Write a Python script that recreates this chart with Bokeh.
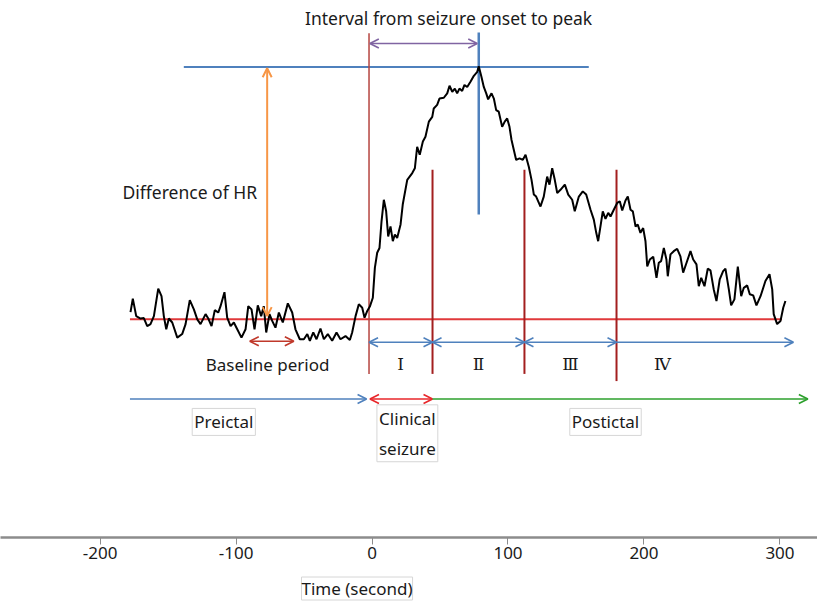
from bokeh.plotting import figure
from bokeh.models import Range1d, FixedTicker, Arrow, OpenHead, Label, LinearAxis, Title
from bokeh.embed import file_html
from bokeh.resources import INLINE

# ---------------- data ----------------
time_s = [
    -177.6, -175.9, -173.4, -170.2, -167.8, -165.3, -162.9, -160.4, -157.2, -154.8,
    -153.1, -151.3, -149.4, -146.9, -143.2, -139.6, -137.1, -134.0, -131.0, -128.5,
    -126.1, -122.4, -120.4, -118.0, -115.6, -113.1, -111.4, -108.5, -106.5, -104.0,
    -101.6, -99.1, -96.0, -93.0, -91.0, -88.6, -86.4, -84.0, -81.5, -79.6,
    -77.8, -75.4, -73.4, -71.0, -68.5, -65.6, -61.9, -58.7, -56.3, -53.1,
    -50.1, -47.6, -45.7, -43.2, -40.8, -37.9, -35.4, -32.5, -29.3, -26.1,
    -23.2, -19.5, -16.3, -14.6, -12.1, -9.7, -7.2, -5.5, -3.5, -1.6,
    0.6, 2.1, 3.8, 5.5, 7.0, 8.7, 10.4, 11.9, 13.6, 15.3,
    16.8, 18.5, 21.0, 22.6, 25.9, 29.6, 31.5, 33.2, 35.1, 37.4,
    39.3, 41.8, 44.3, 45.4, 47.9, 49.6, 52.8, 55.3, 57.0, 59.0,
    60.9, 62.6, 64.3, 66.3, 68.0, 70.0, 72.4, 74.9, 77.4, 78.5,
    80.5, 82.2, 84.0, 85.4, 87.9, 89.6, 91.3, 93.2, 95.7, 97.6,
    99.4, 101.1, 102.6, 104.3, 106.0, 108.5, 110.9, 112.9, 115.3, 117.3,
    119.0, 120.7, 123.9, 126.3, 128.8, 130.5, 132.5, 134.4, 136.2, 138.6,
    141.8, 144.3, 147.2, 149.1, 152.1, 155.0, 157.5, 160.7, 163.1, 164.9,
    166.3, 168.0, 169.7, 171.7, 173.7, 175.4, 177.8, 180.3, 182.2, 184.0,
    186.4, 188.1, 190.1, 191.8, 193.8, 195.4, 197.4, 199.4, 201.1, 202.4,
    204.3, 206.8, 209.2, 210.9, 212.6, 214.6, 216.5, 217.5, 219.5, 221.9,
    224.4, 226.8, 228.8, 231.3, 234.2, 236.2, 238.6, 240.3, 242.1, 244.5,
    246.9, 248.9, 251.3, 253.3, 255.7, 258.2, 259.9, 262.4, 264.1, 266.5,
    269.0, 271.5, 273.4, 275.9, 277.8, 280.3, 282.7, 285.7, 289.3, 292.3,
    294.3, 295.4, 297.9, 300.4, 302.4, 304.0,
]
hr_bpm = [
    81.8, 85.2, 80.8, 80.2, 80.3, 78.3, 78.8, 80.8, 87.7, 85.8,
    80.8, 77.5, 80.2, 79.2, 75.4, 76.3, 78.8, 84.8, 82.5, 80.0,
    78.8, 81.3, 80.2, 78.3, 82.3, 81.7, 83.3, 86.8, 80.4, 78.3,
    79.2, 77.5, 75.4, 77.5, 83.3, 82.5, 77.5, 83.5, 80.8, 83.3,
    76.7, 81.3, 79.6, 77.9, 81.7, 79.2, 84.0, 81.7, 77.5, 75.0,
    75.0, 76.3, 74.6, 76.7, 75.0, 77.7, 75.0, 76.3, 74.6, 76.7,
    75.0, 75.8, 74.8, 76.7, 80.8, 83.8, 82.9, 80.4, 82.1, 83.2,
    85.4, 92.9, 96.7, 97.9, 104.6, 110.0, 107.1, 100.8, 103.3, 99.6,
    101.3, 100.4, 103.8, 108.8, 115.0, 116.7, 117.9, 123.3, 121.3, 124.6,
    125.8, 129.6, 130.8, 132.9, 133.8, 135.4, 135.6, 136.7, 138.6, 137.1,
    137.9, 136.7, 137.9, 137.3, 138.8, 138.3, 139.6, 141.1, 142.1, 143.5,
    140.8, 138.3, 136.7, 135.2, 136.7, 135.4, 132.5, 132.1, 128.3, 129.6,
    130.4, 128.3, 125.0, 122.5, 120.0, 120.4, 120.0, 121.3, 118.3, 115.0,
    111.3, 110.8, 108.3, 110.8, 115.8, 113.8, 117.9, 115.0, 111.7, 112.5,
    113.8, 111.3, 110.0, 107.1, 110.8, 112.1, 111.3, 107.5, 105.0, 101.7,
    99.6, 103.3, 107.1, 105.2, 106.7, 105.8, 107.5, 109.2, 109.6, 107.3,
    109.8, 110.8, 107.5, 107.1, 103.3, 103.8, 101.7, 102.9, 99.6, 93.3,
    95.0, 95.7, 90.4, 94.2, 94.6, 97.9, 95.0, 90.8, 96.3, 97.1,
    97.7, 95.8, 91.7, 94.2, 97.1, 95.0, 93.8, 88.3, 90.4, 88.3,
    92.7, 92.3, 87.5, 84.6, 90.0, 92.1, 92.7, 87.5, 83.5, 85.0,
    93.2, 85.8, 87.9, 88.5, 86.3, 86.0, 83.5, 85.8, 89.6, 91.3,
    87.5, 81.3, 78.8, 79.6, 82.9, 84.6,
]

tick_values = [-200, -100, 0, 100, 200, 300]
tick_labels = ["-200", "-100", "0", "100", "200", "300"]
x_title = "Time (second)"

onset_t = -2.2          # seizure onset (s)
peak_t = 78.5           # time of HR peak (s)
phase_bounds = [44.5, 112.1, 179.8]   # ends of phases I, II, III (s)
postictal_end_t = 309.9
baseline_hr = 80.0
peak_hr = 143.3
baseline_period = [-89.9, -57.5]
baseline_span = [-178.0, 301.5]
peak_level_span = [-138.4, 159.4]
preictal_span = [-178.0, -4.0]
record_end_t = 320.5

phase_names = ["Ⅰ", "Ⅱ", "Ⅲ", "Ⅳ"]
phase_label_t = [21.0, 78.3, 146.0, 213.6]

# ---------------- figure ----------------
p = figure(width=817, height=613, output_backend="svg", toolbar_location=None,
           x_range=Range1d(-273.2, 327.6), y_range=Range1d(25.25, 160.0),
           x_axis_type=None, y_axis_type=None,
           min_border_left=0, min_border_right=0, min_border_top=0, min_border_bottom=74)
p.outline_line_color = None
p.grid.visible = False
p.background_fill_color = "white"

xaxis = LinearAxis(ticker=FixedTicker(ticks=tick_values),
                   major_label_overrides={v: s for v, s in zip(tick_values, tick_labels)})
xaxis.axis_line_color = "#8c8c8c"
xaxis.axis_line_width = 2.5
xaxis.major_tick_line_color = "#8c8c8c"
xaxis.major_tick_out = 7
xaxis.major_tick_in = 0
xaxis.minor_tick_line_color = None
xaxis.major_label_standoff = 2
xaxis.major_label_text_font = "Noto Sans"
xaxis.major_label_text_font_size = "17px"
xaxis.major_label_text_color = "#1a1a1a"
p.add_layout(xaxis, "below")

# x-axis title, placed under the tick labels (left-aligned with an offset, as in the source)
p.add_layout(Title(text=x_title, align="left", offset=301, standoff=27,
                   text_font="Noto Sans", text_font_size="17px", text_font_style="normal",
                   text_color="#1a1a1a", text_line_height=1.0,
                   border_line_color="#d6d6d6", background_fill_color="white", padding=0), "below")

TXT = "#1a1a1a"

# horizontal reference lines
p.segment(x0=[baseline_span[0]], y0=[baseline_hr], x1=[baseline_span[1]], y1=[baseline_hr],
          line_color="#e0393b", line_width=2)
p.segment(x0=[peak_level_span[0]], y0=[peak_hr], x1=[peak_level_span[1]], y1=[peak_hr],
          line_color="#4f81bd", line_width=2)

# vertical lines
p.segment(x0=[onset_t], y0=[151.8], x1=[onset_t], y1=[66.3], line_color="#b5443f", line_width=1.5)
p.segment(x0=phase_bounds, y0=[117.5, 117.5, 117.5], x1=phase_bounds, y1=[66.3, 66.3, 64.5],
          line_color="#a31f1f", line_width=2)
p.segment(x0=[peak_t], y0=[152.0], x1=[peak_t], y1=[106.3], line_color="#4f81bd", line_width=2.5)

# heart-rate trace
p.line(time_s, hr_bpm, line_color="black", line_width=2)


def arrow(x0, y0, x1, y1, color, both=True, lw=1.6, size=9):
    a = Arrow(x_start=x0, y_start=y0, x_end=x1, y_end=y1,
              end=OpenHead(size=size, line_color=color, line_width=lw),
              start=OpenHead(size=size, line_color=color, line_width=lw) if both else None,
              line_color=color, line_width=lw)
    p.add_layout(a)


# interval onset -> peak
arrow(onset_t + 0.6, 149.2, peak_t - 1.1, 149.2, "#8064a2")
# difference of HR
arrow(-77.1, baseline_hr + 0.8, -77.1, 143.0, "#f79646", lw=2)
# baseline period
arrow(baseline_period[0], 74.5, baseline_period[1], 74.5, "#c0392b")
# phases
bounds = [onset_t] + phase_bounds
for a, b in zip(bounds[:-1], bounds[1:]):
    arrow(a, 74.25, b, 74.25, "#4f81bd")
arrow(phase_bounds[-1], 74.25, postictal_end_t, 74.25, "#4f81bd", both=False)
# bottom periods
arrow(preictal_span[0], 60.0, preictal_span[1], 60.0, "#4f81bd", both=False)
arrow(onset_t + 0.7, 60.0, phase_bounds[0], 60.0, "#e8262a")
arrow(phase_bounds[0], 60.0, record_end_t, 60.0, "#2ca02c", both=False)


def label(x, y, text, size="17px", align="center", box=False, font="Noto Sans", lh=1.2):
    kw = {}
    if box:
        kw = dict(border_line_color="#d6d6d6", border_line_width=1,
                  background_fill_color="white", padding=2)
    p.add_layout(Label(x=x, y=y, text=text, text_font=font, text_font_size=size,
                       text_color=TXT, text_align=align, text_baseline="middle",
                       text_line_height=lh, **kw))


label(56.3, 155.5, "Interval from seizure onset to peak", size="17.5px")
label(-84.5, 112.0, "Difference of HR", size="17.5px", align="right")
label(-76.8, 68.75, "Baseline period")
for t, name in zip(phase_label_t, phase_names):
    label(t, 68.75, name, size="17px", font="DejaVu Serif")
label(-109.0, 54.25, "Preictal", box=True)
label(26.0, 51.4, "Clinical\nseizure", box=True, lh=1.3)
label(171.7, 54.25, "Postictal", box=True)

open("out.html", "w").write(file_html(p, INLINE))
